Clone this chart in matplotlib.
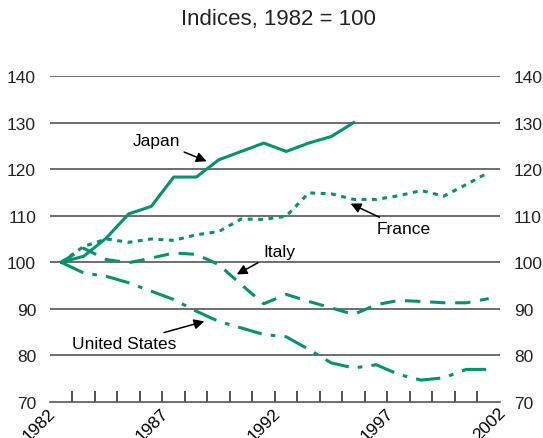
import numpy as np
import matplotlib
matplotlib.use("Agg")
import matplotlib.pyplot as plt
import matplotlib.transforms as mtransforms

plt.rcParams['font.family'] = ['Liberation Sans', 'DejaVu Sans']

# annual index values, 1982 = 100 (plotted mid-year)
years = np.arange(1982, 2002) + 0.5
japan = [100, 101.3, 105.2, 110.4, 112.0, 118.3, 118.3, 122.0, 123.8, 125.6,
         123.8, 125.6, 127.0, 130.0]
france = [100, 103.4, 105.0, 104.3, 105.0, 104.7, 105.9, 106.6, 109.3, 109.2,
          109.9, 114.9, 114.7, 113.5, 113.5, 114.3, 115.4, 114.2, 116.7, 119.3]
italy = [100, 103.0, 100.6, 99.9, 100.9, 102.0, 101.7, 99.5, 95.2, 91.1,
         93.1, 91.6, 90.2, 88.8, 90.9, 91.8, 91.6, 91.3, 91.3, 92.2]
us = [100, 97.7, 97.0, 95.6, 93.8, 92.0, 89.5, 87.3, 85.9, 84.5,
      84.0, 81.3, 78.4, 77.3, 78.0, 75.9, 74.7, 75.2, 77.0, 77.0]

year_ticks = np.arange(1982, 2003)
y_ticks = [70, 80, 90, 100, 110, 120, 130, 140]

green = '#00936e'
fs = 12.5

fig = plt.figure(figsize=(5.43, 4.39), dpi=100)
ax = fig.add_axes([50 / 543, 36 / 439, 450 / 543, 326 / 439])

for y in y_ticks[1:]:
    ax.axhline(y, color='#555555', lw=1.2, zorder=1)

lw = 2.2
ax.plot(years[:len(japan)], japan, color=green, lw=lw, zorder=3)
ax.plot(years, france, color=green, lw=lw, dashes=(1.6, 1.8), zorder=3)
ax.plot(years, italy, color=green, lw=lw, dashes=(5, 3.2), zorder=3)
ax.plot(years, us, color=green, lw=lw, dashes=(8, 3, 1.5, 3), zorder=3)

ax.set_xlim(1982, 2002)
ax.set_ylim(70, 140)

for s in ['top', 'left', 'right']:
    ax.spines[s].set_visible(False)
ax.spines['bottom'].set_color('#555555')
ax.spines['bottom'].set_linewidth(1.2)

ax.set_xticks(year_ticks)
ax.set_xticklabels([str(y) if y % 5 == 2 else '' for y in year_ticks],
                   rotation=45, ha='right', va='top', fontsize=fs)
ax.tick_params(axis='x', direction='in', length=8, width=1.2, color='#333333', pad=2)
xt = ax.xaxis.get_major_ticks()
xt[0].tick1line.set_visible(False)
xt[-1].tick1line.set_visible(False)
offset = mtransforms.ScaledTranslation(6 / 72, 0, fig.dpi_scale_trans)
for lab in ax.get_xticklabels():
    lab.set_transform(lab.get_transform() + offset)

ax.set_yticks(y_ticks)
ax.tick_params(axis='y', length=0, labelsize=fs, labelleft=True, labelright=True,
               pad=10)
for lab in ax.get_yticklabels():
    lab.set_color('#222222')

arrow = dict(arrowstyle='-|>', color='black', lw=1.1, mutation_scale=15,
             shrinkA=2, shrinkB=0)
ax.annotate('Japan', xy=(1988.96, 121.7), xytext=(1986.73, 126.1),
            ha='center', va='center', fontsize=fs, arrowprops=arrow)
ax.annotate('France', xy=(1995.36, 112.6), xytext=(1997.72, 107.2),
            ha='center', va='center', fontsize=fs, arrowprops=arrow)
ax.annotate('Italy', xy=(1990.3, 97.4), xytext=(1992.18, 102.4),
            ha='center', va='center', fontsize=fs, arrowprops=arrow)
ax.annotate('United States', xy=(1988.86, 87.3), xytext=(1985.29, 82.55),
            ha='center', va='center', fontsize=fs, arrowprops=arrow)

fig.text(278 / 543, 1 - 20 / 439, 'Indices, 1982 = 100', ha='center', va='center',
         fontsize=16, color='#222222')

fig.savefig('out.png', dpi=100)
